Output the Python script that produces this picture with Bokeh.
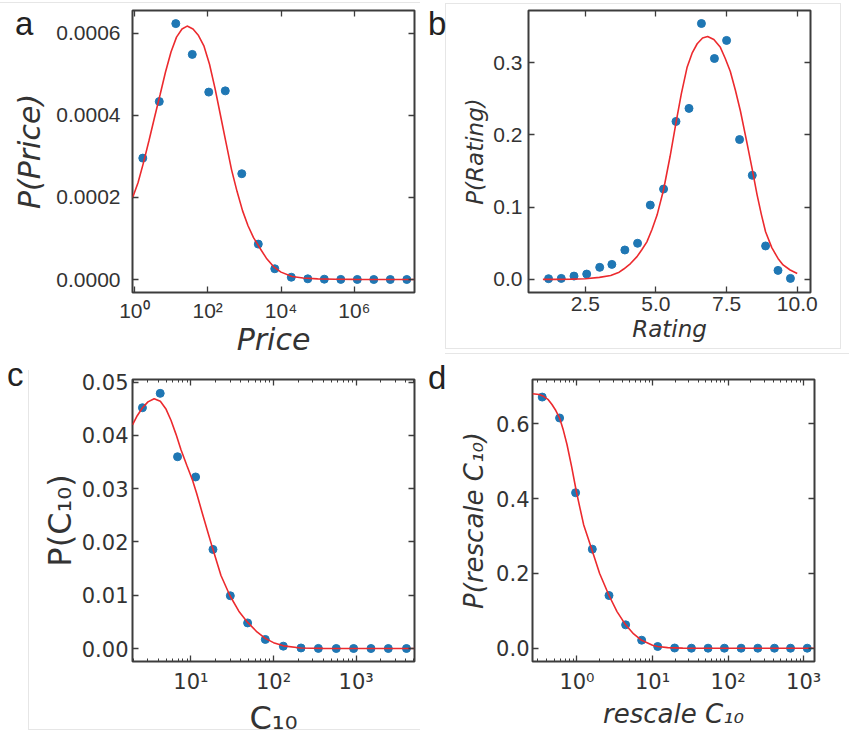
from bokeh.plotting import figure
from bokeh.layouts import row, column
from bokeh.models import (Range1d, FixedTicker, NumeralTickFormatter, CustomJSTickFormatter,
                          LinearAxis, LogAxis, Div)
from bokeh.embed import file_html
from bokeh.resources import INLINE

# ---------------- data ----------------
# panel a : price
price_x = [1.70, 4.79, 13.5, 38.0, 107, 302, 851, 2399, 6761, 19055, 53703, 151356,
           426580, 1202264, 3388442, 9549926, 26915348]
price_p = [0.000296, 0.000434, 0.000624, 0.000549, 0.000457, 0.000460, 0.000258,
           0.0000863, 0.0000262, 0.0000056, 0.0000017, 0.0000008, 0.0000003,
           0.0000001, 0.0, 0.0, 0.0]
price_fit_x = [0.891, 1.259, 1.778, 2.512, 3.548, 5.012, 7.079, 10.0, 14.13, 19.95, 27.54,
               39.81, 56.23, 79.43, 112.2, 158.5, 223.9, 316.2, 446.7, 631.0, 891.3, 1259,
               1778, 2512, 3981, 6310, 10000, 19953, 39811, 100000, 316228, 1e6, 1e7, 4.365e7]
price_fit_p = [0.000199, 0.000236, 0.000285, 0.000339, 0.000395, 0.000450, 0.000506,
               0.000555, 0.000591, 0.000611, 0.000618, 0.000611, 0.000595, 0.000569,
               0.000525, 0.000466, 0.000400, 0.000334, 0.000268, 0.000215, 0.000168,
               0.000131, 0.000102, 0.000080, 0.000052, 0.000031, 0.000018, 0.0000073,
               0.0000035, 0.0000015, 0.0000005, 0.0000002, 0.0, 0.0]

# panel b : rating
rating_x = [1.20, 1.65, 2.10, 2.55, 3.01, 3.44, 3.90, 4.35, 4.80, 5.27, 5.71, 6.17,
            6.61, 7.07, 7.50, 7.96, 8.41, 8.88, 9.32, 9.76]
rating_p = [0.001, 0.0014, 0.0046, 0.0074, 0.0167, 0.0208, 0.0407, 0.050, 0.1028, 0.125,
            0.2185, 0.2366, 0.354, 0.3056, 0.3306, 0.1935, 0.144, 0.0463, 0.0125, 0.0014]
rating_fit_x = [1.0, 1.5, 2.0, 2.5, 3.0, 3.4, 3.7, 3.86, 4.1, 4.33, 4.5, 4.68, 4.86, 5.04,
                5.27, 5.5, 5.72, 5.9, 6.1, 6.28, 6.46, 6.65, 6.83, 7.05, 7.28, 7.45, 7.63,
                7.81, 7.99, 8.2, 8.4, 8.58, 8.73, 8.88, 9.1, 9.32, 9.5, 9.75, 10.0]
rating_fit_p = [0.0, 0.0001, 0.0004, 0.001, 0.0028, 0.0055, 0.010, 0.0144, 0.022, 0.0315,
                0.041, 0.052, 0.069, 0.089, 0.124, 0.170, 0.219, 0.257, 0.293, 0.313,
                0.326, 0.334, 0.336, 0.332, 0.321, 0.306, 0.288, 0.262, 0.233, 0.193,
                0.154, 0.117, 0.090, 0.066, 0.044, 0.029, 0.020, 0.013, 0.0083]

# panel c : C10
c10_x = [2.59, 4.25, 6.89, 11.4, 18.5, 30.0, 48.6, 79.6, 131.5, 215.3, 349.1, 575.4,
         933.3, 1513.6, 2454.7, 4073.8]
c10_p = [0.0452, 0.0479, 0.0360, 0.0322, 0.0186, 0.0099, 0.0048, 0.0017, 0.00044,
         0.0001, 0.00002, 0.0, 0.0, 0.0, 0.0, 0.0]
c10_fit_x = [1.963, 2.239, 2.594, 3.020, 3.589, 4.266, 5.012, 5.754, 6.607, 7.586, 8.913,
             10.47, 11.75, 13.80, 15.85, 18.32, 23.12, 29.72, 38.02, 48.64, 63.10, 79.43,
             100.0, 131.8, 213.8, 398.1, 1000.0, 5093.0]
c10_fit_p = [0.0420, 0.0437, 0.0452, 0.0463, 0.0469, 0.0464, 0.0449, 0.0428, 0.0402,
             0.0373, 0.0344, 0.0316, 0.0291, 0.0253, 0.0221, 0.0188, 0.0137, 0.0099,
             0.0070, 0.0049, 0.0031, 0.0019, 0.0011, 0.0005, 0.0001, 0.00002, 0.0, 0.0]

# panel d : rescaled C10
rc_x = [0.347, 0.589, 0.959, 1.596, 2.655, 4.406, 7.18, 11.7, 19.6, 32.7, 54.3, 89.3,
        148.6, 247.2, 410.2, 669.9, 1114.3]
rc_p = [0.672, 0.616, 0.416, 0.265, 0.141, 0.0625, 0.0214, 0.0045, 0.0005, 0.0, 0.0,
        0.0, 0.0, 0.0, 0.0, 0.0, 0.0]
rc_fit_x = [0.258, 0.316, 0.361, 0.417, 0.467, 0.525, 0.589, 0.661, 0.738, 0.851, 0.980,
            1.096, 1.225, 1.380, 1.549, 1.995, 2.655, 3.388, 4.406, 5.623, 7.178, 10.0,
            11.70, 15.85, 25.12, 39.81, 1390.0]
rc_fit_p = [0.681, 0.679, 0.674, 0.665, 0.652, 0.636, 0.616, 0.583, 0.545, 0.485, 0.420,
            0.375, 0.3305, 0.299, 0.268, 0.200, 0.141, 0.098, 0.0625, 0.038, 0.021, 0.008,
            0.0045, 0.0015, 0.0003, 0.0, 0.0]

# ticks
price_xticks = [1, 1e2, 1e4, 1e6]
price_yticks = [0.0, 0.0002, 0.0004, 0.0006]
rating_xticks = [2.5, 5.0, 7.5, 10.0]
rating_yticks = [0.0, 0.1, 0.2, 0.3]
c10_xticks = [10, 100, 1000]
c10_xminor = [2, 3, 4, 5, 6, 7, 8, 9, 20, 30, 40, 50, 60, 70, 80, 90,
              200, 300, 400, 500, 600, 700, 800, 900, 2000, 3000, 4000, 5000]
c10_yticks = [0.0, 0.01, 0.02, 0.03, 0.04, 0.05]
rc_xticks = [1, 10, 100, 1000]
rc_xminor = [0.3, 0.4, 0.5, 0.6, 0.7, 0.8, 0.9, 2, 3, 4, 5, 6, 7, 8, 9,
             20, 30, 40, 50, 60, 70, 80, 90, 200, 300, 400, 500, 600, 700, 800, 900]
rc_yticks = [0.0, 0.2, 0.4, 0.6]

panel_letters = ["a", "b", "c", "d"]

# ---------------- styling ----------------
DOT = "#1f77b4"
RED = "#ec2a2e"
INK = "#333333"
FRAME = "#3c3c3c"
FAINT = "#e6e6e6"

SUP_JS = """
const sup = {"0":"\\u2070","1":"\\u00b9","2":"\\u00b2","3":"\\u00b3","4":"\\u2074","5":"\\u2075",
             "6":"\\u2076","7":"\\u2077","8":"\\u2078","9":"\\u2079","-":"\\u207b"};
const e = Math.round(Math.log10(tick));
const s = String(e);
let out = "10";
for (let i = 0; i < s.length; i++) { out += sup[s[i]]; }
return out;
"""

BLANK_JS = "return ' ';"


def style_axis(ax, font, size, standoff):
    ax.axis_line_color = None
    ax.major_tick_in = 6
    ax.major_tick_out = 0
    ax.minor_tick_in = 3
    ax.minor_tick_out = 0
    ax.major_tick_line_color = FRAME
    ax.minor_tick_line_color = FRAME
    ax.major_tick_line_width = 1.3
    ax.minor_tick_line_width = 1.0
    ax.major_label_text_font = font
    ax.major_label_text_font_size = size
    ax.major_label_text_color = INK
    ax.major_label_standoff = standoff


def mirror_axis(p, kind, ticker, side):
    ax = kind(ticker=ticker, formatter=CustomJSTickFormatter(code=BLANK_JS))
    ax.axis_line_color = None
    ax.major_tick_in = 6
    ax.major_tick_out = 0
    ax.minor_tick_in = 3
    ax.minor_tick_out = 0
    ax.major_tick_line_color = FRAME
    ax.minor_tick_line_color = FRAME
    ax.major_tick_line_width = 1.3
    ax.minor_tick_line_width = 1.0
    ax.major_label_text_font_size = "2px"
    ax.major_label_text_color = None
    ax.major_label_standoff = 0
    p.add_layout(ax, side)


def panel(x_type, xr, yr, borders, xt, yt, yfmt, tick_font, tick_size,
          xstand, ystand, xlabel, ylabel, lab_font, lab_size, lab_style,
          xlab_stand, ylab_stand):
    l, r, t, b = borders
    p = figure(frame_width=282, frame_height=282, x_axis_type=x_type,
               x_range=Range1d(*xr), y_range=Range1d(*yr),
               toolbar_location=None, output_backend="svg",
               min_border_left=l, min_border_right=r, min_border_top=t, min_border_bottom=b)
    p.xgrid.visible = False
    p.ygrid.visible = False
    p.outline_line_color = FRAME
    p.outline_line_width = 2
    p.background_fill_color = "white"
    p.border_fill_color = "white"

    xa = p.xaxis[0]
    ya = p.yaxis[0]
    xa.ticker = xt
    ya.ticker = yt
    if x_type == "log":
        xa.formatter = CustomJSTickFormatter(code=SUP_JS)
    else:
        xa.formatter = NumeralTickFormatter(format="0.0")
    ya.formatter = NumeralTickFormatter(format=yfmt)
    style_axis(xa, tick_font, tick_size, xstand)
    style_axis(ya, tick_font, tick_size, ystand)
    for ax, text, st in ((xa, xlabel, xlab_stand), (ya, ylabel, ylab_stand)):
        ax.axis_label = text
        ax.axis_label_text_font = lab_font
        ax.axis_label_text_font_size = lab_size
        ax.axis_label_text_font_style = lab_style
        ax.axis_label_text_color = INK
        ax.axis_label_standoff = st

    mirror_axis(p, LogAxis if x_type == "log" else LinearAxis, xt, "above")
    mirror_axis(p, LinearAxis, yt, "right")
    return p


pa = panel("log", (0.891, 4.365e7), (-0.0000317, 0.000656), (132, 6, 9, 79),
           FixedTicker(ticks=price_xticks, minor_ticks=[]),
           FixedTicker(ticks=price_yticks, minor_ticks=[]), "0.0000",
           "Liberation Sans", "21px", 6, 12, "Price", "P(Price)",
           "DejaVu Sans", "30px", "italic", -3, 6)
pa.scatter(price_x, price_p, size=8, color=DOT)
pa.line(price_fit_x, price_fit_p, line_color=RED, line_width=1.6)

pb = panel("linear", (0.49, 10.47), (-0.0181, 0.372), (108, 39, 10, 79),
           FixedTicker(ticks=rating_xticks, minor_ticks=[]),
           FixedTicker(ticks=rating_yticks, minor_ticks=[]), "0.0",
           "Liberation Sans", "21px", 4, 6, "Rating", "P(Rating)",
           "DejaVu Sans", "23px", "italic", 2, 2)
pb.scatter(rating_x, rating_p, size=8, color=DOT)
pb.line(rating_fit_x, rating_fit_p, line_color=RED, line_width=1.6)

pc = panel("log", (1.963, 5093.0), (-0.00244, 0.0505), (132, 6, 7, 81),
           FixedTicker(ticks=c10_xticks, minor_ticks=c10_xminor),
           FixedTicker(ticks=c10_yticks, minor_ticks=[]), "0.00",
           "DejaVu Sans", "21px", 8, 4, "C\u2081\u2080", "P(C\u2081\u2080)",
           "DejaVu Sans", "32px", "normal", 2, 0)
pc.scatter(c10_x, c10_p, size=8, color=DOT)
pc.line(c10_fit_x, c10_fit_p, line_color=RED, line_width=1.6)

pd_ = panel("log", (0.258, 1390.0), (-0.0356, 0.719), (112, 35, 8, 80),
            FixedTicker(ticks=rc_xticks, minor_ticks=rc_xminor),
            FixedTicker(ticks=rc_yticks, minor_ticks=[]), "0.0",
            "DejaVu Sans", "21px", 8, 3, "rescale C\u2081\u2080", "P(rescale C\u2081\u2080)",
            "DejaVu Sans", "26px", "italic", 2, 4)
pd_.scatter(rc_x, rc_p, size=8, color=DOT)
pd_.line(rc_fit_x, rc_fit_p, line_color=RED, line_width=1.6)

layout = column(row(pa, pb), row(pc, pd_))

# panel letters, laid over the figures
letter_pos = [(15, 7), (428, 7), (7, 358), (428, 361)]
overlays = []
for txt, (lx, ty) in zip(panel_letters, letter_pos):
    overlays.append(Div(text=txt, width=30, height=36,
                        styles={"position": "absolute", "left": f"{lx}px", "top": f"{ty}px",
                                "font-family": "Liberation Sans, Arial, sans-serif",
                                "font-size": "33px", "line-height": "33px",
                                "color": "#222222", "margin": "0", "padding": "0",
                                "z-index": "10"}))

# faint borders of the original sub-images
faint_boxes = [
    (445, 3, 396, 346, "1px solid " + FAINT),     # box round panel b
]
faint_rules = [
    (0, 2, 420, 1),       # top edge over panel a
    (28, 370, 1, 360),    # left edge of panel c
    (28, 729, 392, 1),    # bottom edge of panel c
    (445, 353, 404, 1),   # top edge over panel d
]
for lx, ty, w, h, border in faint_boxes:
    overlays.append(Div(text="", width=w, height=h,
                        styles={"position": "absolute", "left": f"{lx}px", "top": f"{ty}px",
                                "width": f"{w}px", "height": f"{h}px", "border": border,
                                "box-sizing": "border-box", "margin": "0", "padding": "0",
                                "pointer-events": "none", "z-index": "5"}))
for lx, ty, w, h in faint_rules:
    overlays.append(Div(text="", width=w, height=h,
                        styles={"position": "absolute", "left": f"{lx}px", "top": f"{ty}px",
                                "width": f"{w}px", "height": f"{h}px",
                                "background-color": FAINT, "margin": "0", "padding": "0",
                                "pointer-events": "none", "z-index": "5"}))

open("out.html", "w").write(file_html([layout] + overlays, INLINE))
